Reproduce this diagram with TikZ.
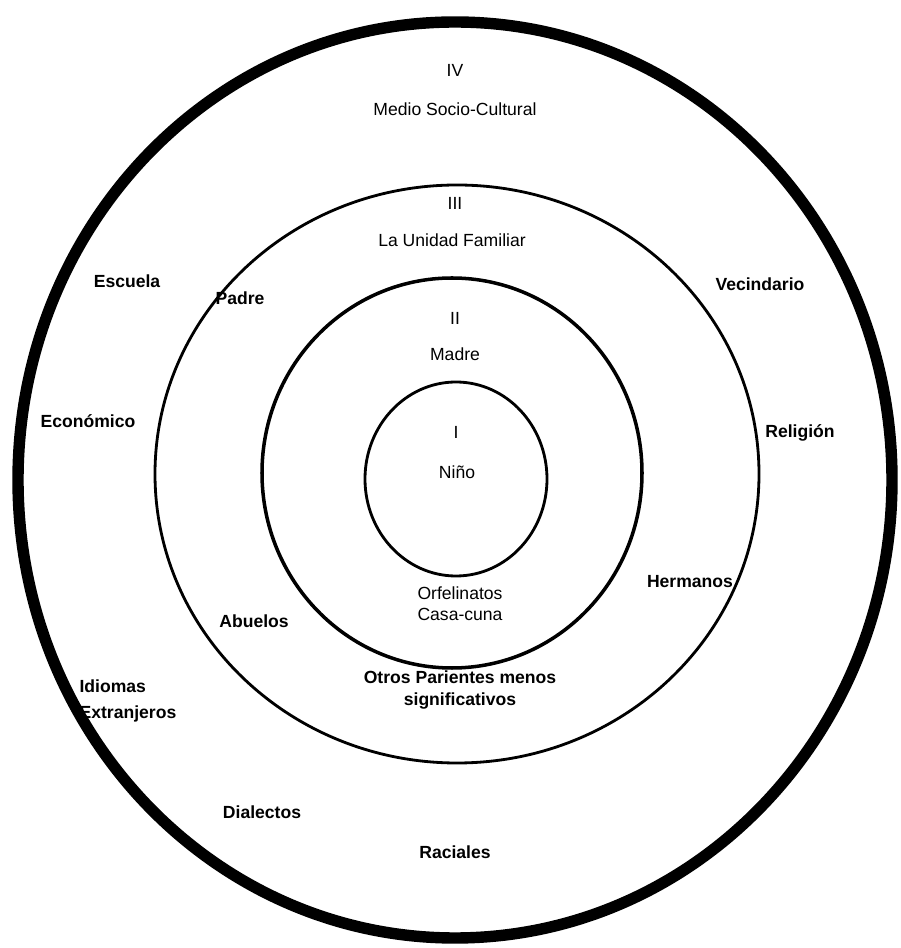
\documentclass[tikz,border=0pt]{standalone}
\usepackage{fontspec}
\setmainfont{Liberation Sans}
\tikzset{
  ring/.style={line width=1.6pt},
  outer ring/.style={line width=6.5pt},
  lbl/.style={font=\normalsize, inner sep=1pt},
  lblb/.style={font=\normalsize\bfseries, inner sep=1pt}
}
\begin{document}
\begin{tikzpicture}
                \useasboundingbox (0,0) rectangle (18,18.96);
                % rings
                \draw [outer ring] (9.10,9.36) ellipse (8.74 and 9.16);
                \draw [ring] (9.14,9.48) ellipse (6.04 and 5.78);
                \draw [ring, line width=2pt] (9.04,9.50) ellipse (3.80 and 3.90);
                \draw [ring] (9.12,9.38) ellipse (1.82 and 1.94);

                % IV
                \node [lbl] (n4) at (9.10,17.56) {IV};
                \node [lbl] (medio) at (9.10,16.78) {Medio Socio-Cultural};
                \node [lblb] (escuela) at (2.54,13.34) {Escuela};
                \node [lblb] (vecindario) at (15.20,13.28) {Vecindario};
                \node [lblb] (economico) at (1.76,10.54) {Económico};
                \node [lblb] (religion) at (16.00,10.30) {Religión};
                \node [lblb, anchor=west, align=left] (idiomas) at (1.55,4.94) {Idiomas\\[3pt]Extranjeros};
                \node [lblb] (dialectos) at (5.24,2.72) {Dialectos};
                \node [lblb] (raciales) at (9.10,1.92) {Raciales};

                % III
                \node [lbl] (n3) at (9.10,14.90) {III};
                \node [lbl] (unidad) at (9.04,14.16) {La Unidad Familiar};
                \node [lblb] (padre) at (4.80,13.00) {Padre};
                \node [lblb] (hermanos) at (13.80,7.32) {Hermanos};
                \node [lblb] (abuelos) at (5.08,6.54) {Abuelos};
                \node [lblb, align=center] (otros) at (9.20,5.16) {Otros Parientes menos\\[1pt]significativos};

                % II
                \node [lbl] (n2) at (9.10,12.60) {II};
                \node [lbl] (madre) at (9.10,11.88) {Madre};
                \node [lbl, align=center] (orfelinatos) at (9.20,6.88) {Orfelinatos\\Casa-cuna};

                % I
                \node [lbl] (n1) at (9.12,10.32) {I};
                \node [lbl] (nino) at (9.14,9.52) {Niño};
            \end{tikzpicture}
\end{document}
